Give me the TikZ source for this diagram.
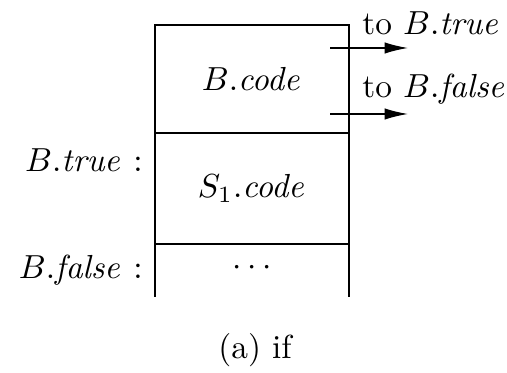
\documentclass[tikz,border=0pt]{standalone}
\usetikzlibrary{arrows.meta}
\begin{document}
\begin{tikzpicture}[x=0.3pt, y=0.3pt, line width=0.6pt, every node/.style={font=\normalsize, inner sep=1pt},
  jump/.style={line width=0.4pt, -{Latex[length=7pt, width=3.4pt]}}]
  \useasboundingbox (0,0) rectangle (507,373);
  % --- Box corners ---
  \coordinate (tl) at (155,348);
  \coordinate (tr) at (349,348);
  \coordinate (m1l) at (155,240);
  \coordinate (m1r) at (349,240);
  \coordinate (m2l) at (155,129);
  \coordinate (m2r) at (349,129);
  \coordinate (bl) at (155,76);
  \coordinate (br) at (349,76);

  % --- Box lines (bottom left open) ---
  \draw (bl)--(tl)--(tr)--(br);
  \draw (m1l)--(m1r);
  \draw (m2l)--(m2r);

  % --- Contents ---
  \node (bcode) at (252,294) {$B.\mathit{code}$};
  \node (scode) at (252,185) {$S_1.\mathit{code}$};
  \node (rest)  at (252,105) {$\cdots$};

  % --- Labels on the left ---
  \node[anchor=east] (ltrue)  at (147,213) {$B.\mathit{true}$ :};
  \node[anchor=east] (lfalse) at (147,103) {$B.\mathit{false}$ :};

  % --- Jumps out of B.code ---
  \coordinate (j1s) at (330,325);
  \coordinate (j1e) at (408,325);
  \coordinate (j2s) at (330,259);
  \coordinate (j2e) at (408,259);
  \draw[jump] (j1s)--(j1e);
  \draw[jump] (j2s)--(j2e);
  \node[anchor=west] (ttrue)  at (358,350) {to $B.\mathit{true}$};
  \node[anchor=west] (tfalse) at (358,284) {to $B.\mathit{false}$};

  % --- Caption ---
  \node (caption) at (255,23) {(a) if};
\end{tikzpicture}
\end{document}
